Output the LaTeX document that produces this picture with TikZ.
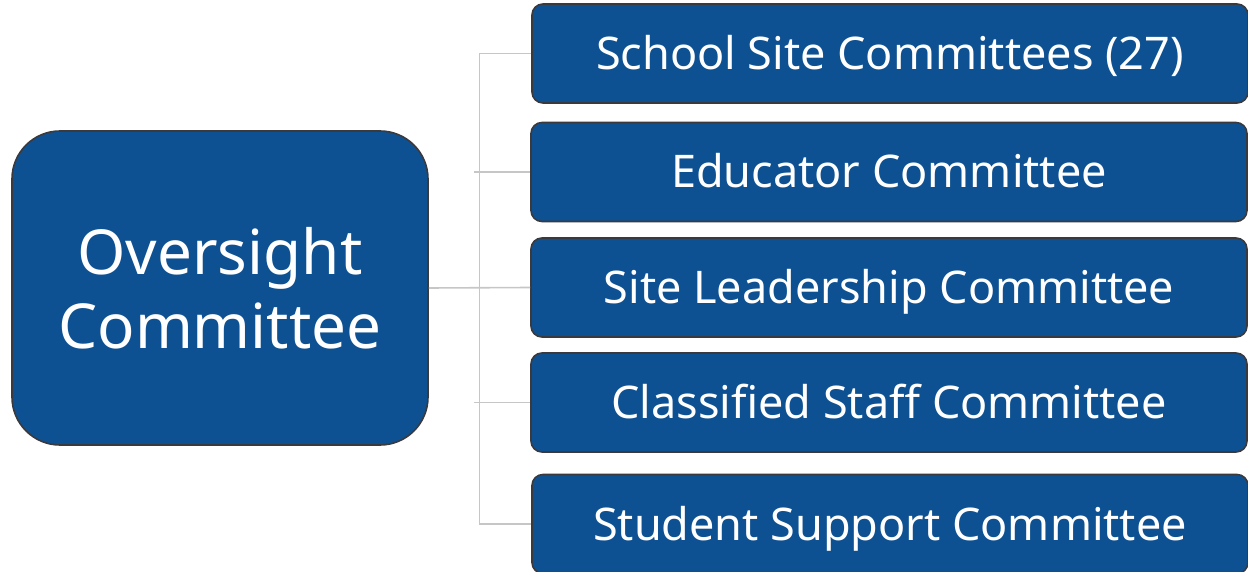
\documentclass[tikz,border=0pt]{standalone}
\usepackage{fontspec}
\setmainfont{Noto Sans}
\definecolor{boxblue}{RGB}{14,81,146}
\definecolor{boxedge}{RGB}{58,58,62}
\definecolor{conn}{RGB}{198,198,198}
\begin{document}
\begin{tikzpicture}[x=1pt,y=-1pt,
  bigbox/.style={draw=boxedge,line width=1.6pt,fill=boxblue,rounded corners=48pt,
    minimum width=416pt,minimum height=314pt,text=white,align=center,
    font=\fontsize{62}{74}\selectfont,inner sep=0pt},
  cbox/.style={draw=boxedge,line width=1.6pt,fill=boxblue,rounded corners=11pt,
    minimum width=716pt,minimum height=99pt,text=white,
    text height=32pt,text depth=0pt,
    font=\fontsize{45}{54}\selectfont,inner sep=0pt},
  connline/.style={draw=conn,line width=1.6pt}]
\useasboundingbox (0,0) rectangle (1248,572);
\clip (0,0) rectangle (1248,572);
\node[bigbox] (ov) at (220,288) {Oversight\\Committee};
\node[cbox] (s1) at (890,53.5) {School Site Committees (27)};
\node[cbox] (s2) at (889,172) {Educator Committee};
\node[cbox] (s3) at (889,287.5) {Site Leadership Committee};
\node[cbox] (s4) at (889,402.5) {Classified Staff Committee};
\node[cbox] (s5) at (890,524) {Student Support Committee};
\coordinate (bus) at (479.5,288);
\path[connline] (s1.west) -| (bus) |- (s5.west);
\path[connline] (ov.east) -- (s3.west);
\path[connline] ([xshift=-5.5pt]bus |- s2.west) -- (s2.west);
\path[connline] ([xshift=-5.5pt]bus |- s4.west) -- (s4.west);
\end{tikzpicture}
\end{document}
